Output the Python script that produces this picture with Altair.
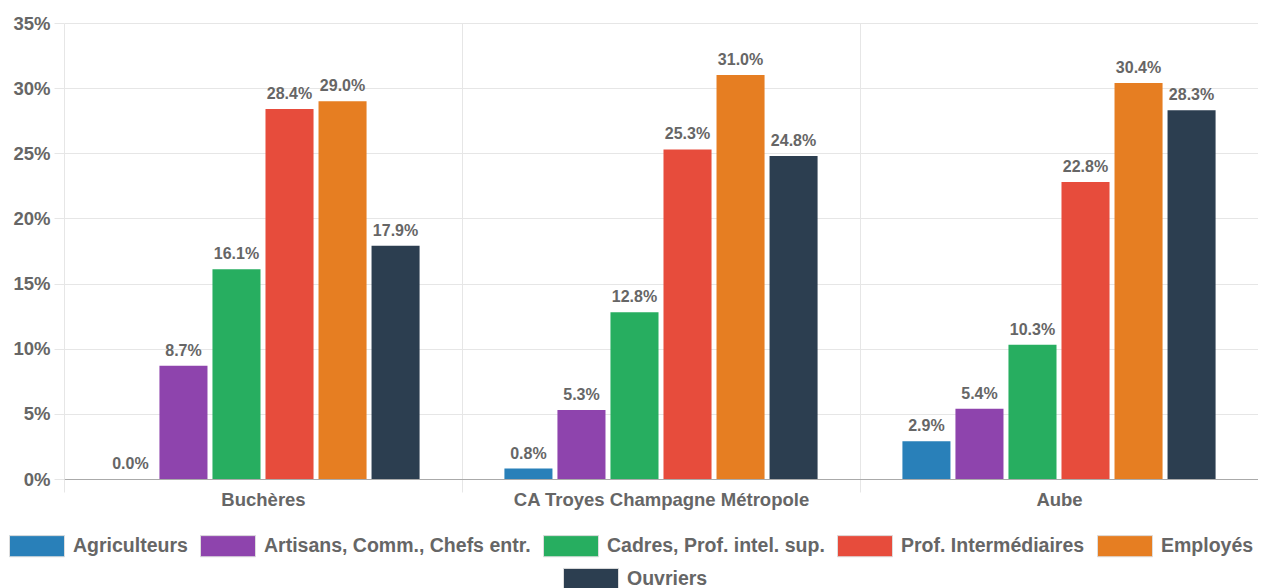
import altair as alt
import pandas as pd

groups = ["Buchères", "CA Troyes Champagne Métropole", "Aube"]
categories = [
    "Agriculteurs",
    "Artisans, Comm., Chefs entr.",
    "Cadres, Prof. intel. sup.",
    "Prof. Intermédiaires",
    "Employés",
    "Ouvriers",
]
colors = ["#2980b9", "#8e44ad", "#27ae60", "#e74c3c", "#e67e22", "#2c3e50"]

agriculteurs = [0.0, 0.8, 2.9]
artisans = [8.7, 5.3, 5.4]
cadres = [16.1, 12.8, 10.3]
prof_inter = [28.4, 25.3, 22.8]
employes = [29.0, 31.0, 30.4]
ouvriers = [17.9, 24.8, 28.3]
series = [agriculteurs, artisans, cadres, prof_inter, employes, ouvriers]

y_ticks = [0, 0.05, 0.10, 0.15, 0.20, 0.25, 0.30, 0.35]

rows = []
for cat, vals in zip(categories, series):
    for g, v in zip(groups, vals):
        rows.append({"groupe": g, "csp": cat, "valeur": v / 100})
df = pd.DataFrame(rows)

FONT = "Liberation Sans"
GRID = "#e6e6e6"
LABEL = "#666666"

x_enc = alt.X(
    "groupe:N",
    sort=groups,
    title=None,
    scale=alt.Scale(domain=groups, paddingInner=0, paddingOuter=0),
    axis=alt.Axis(
        labelAngle=0,
        tickBand="extent",
        grid=True,
        gridColor=GRID,
        tickColor=GRID,
        tickSize=13,
        domainColor="#aaaaaa",
        labelFont=FONT,
        labelFontSize=18.5,
        labelFontWeight="bold",
        labelColor=LABEL,
        labelPadding=-2,
        labelLimit=600,
    ),
)
y_enc = alt.Y(
    "valeur:Q",
    title=None,
    scale=alt.Scale(domain=[0, 0.35], nice=False),
    axis=alt.Axis(
        format=".0%",
        values=y_ticks,
        grid=True,
        gridColor=GRID,
        tickColor=GRID,
        tickSize=10,
        domain=False,
        labelFont=FONT,
        labelFontSize=18.5,
        labelFontWeight="bold",
        labelColor=LABEL,
        labelPadding=4,
    ),
)
xoff_enc = alt.XOffset(
    "csp:N",
    sort=categories,
    scale=alt.Scale(domain=categories, paddingInner=0.094, paddingOuter=0.8),
)

legend_common = dict(
    orient="none",
    direction="horizontal",
    title=None,
    symbolType="M-1,-0.385H1V0.385H-1Z",
    symbolSize=3025,
    symbolStrokeColor="#dddddd",
    symbolStrokeWidth=1,
    symbolOpacity=1,
    labelFont=FONT,
    labelFontSize=19.5,
    labelFontWeight="bold",
    labelColor=LABEL,
    labelOffset=8,
    columnPadding=10,
    labelLimit=500,
)

bars1 = (
    alt.Chart(df)
    .transform_filter(alt.datum.csp != "Ouvriers")
    .mark_bar()
    .encode(
        x=x_enc,
        xOffset=xoff_enc,
        y=y_enc,
        color=alt.Color(
            "csp:N",
            scale=alt.Scale(domain=categories[:5], range=colors[:5]),
            legend=alt.Legend(legendX=-55, legendY=495, **legend_common),
        ),
    )
)
bars2 = (
    alt.Chart(df)
    .transform_filter(alt.datum.csp == "Ouvriers")
    .mark_bar()
    .encode(
        x=x_enc,
        xOffset=xoff_enc,
        y=y_enc,
        color=alt.Color(
            "csp:N",
            scale=alt.Scale(domain=categories[5:], range=colors[5:]),
            legend=alt.Legend(legendX=499, legendY=528, **legend_common),
        ),
    )
)
labels = (
    alt.Chart(df)
    .mark_text(
        dy=-10,
        baseline="alphabetic",
        font=FONT,
        fontSize=16,
        fontWeight="bold",
        color=LABEL,
    )
    .encode(
        x=x_enc,
        xOffset=xoff_enc,
        y=y_enc,
        text=alt.Text("valeur:Q", format=".1%"),
    )
)

chart = (
    alt.layer(bars1, bars2, labels)
    .resolve_scale(color="independent")
    .properties(
        width=1194,
        height=456,
        autosize=alt.AutoSizeParams(type="none"),
        padding={"left": 56, "top": 15, "right": 0, "bottom": 109},
    )
    .configure_view(stroke=None)
)

chart.save("out.html", embed_options={"renderer": "svg", "actions": False})
